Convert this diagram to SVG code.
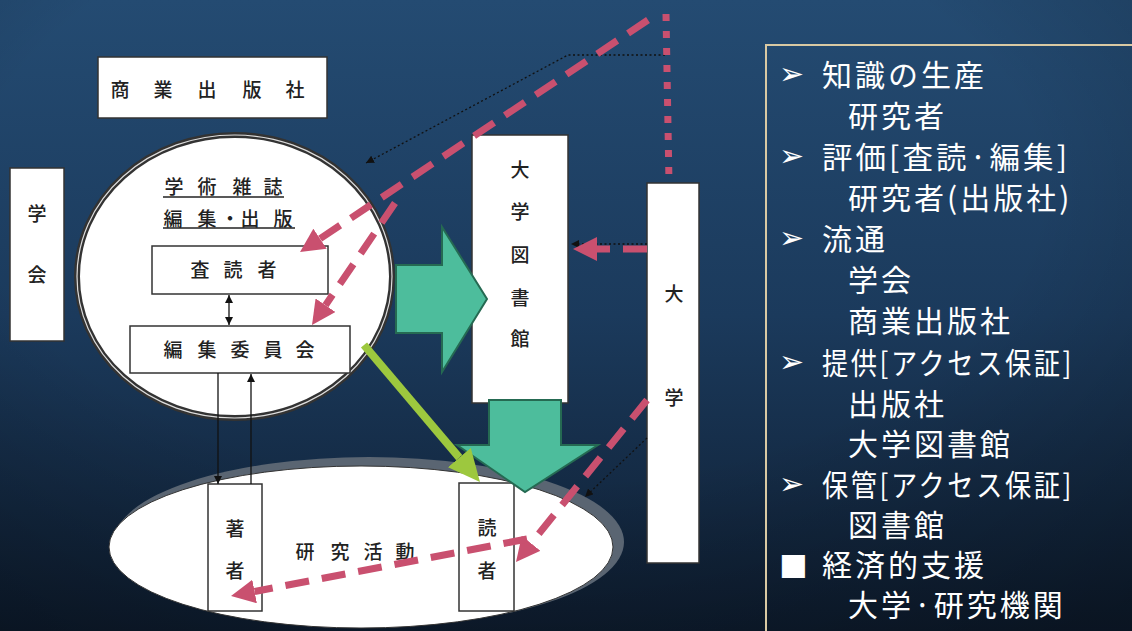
<svg xmlns="http://www.w3.org/2000/svg" width="1132" height="631" viewBox="0 0 1132 631">
<defs>
  <linearGradient id="bg" x1="0" y1="0" x2="0" y2="1">
    <stop offset="0" stop-color="#244b72"/>
    <stop offset="0.5" stop-color="#1b3a5c"/>
    <stop offset="1" stop-color="#0e1d30"/>
  </linearGradient>
  <radialGradient id="vig" cx="0.45" cy="0.3" r="0.85">
    <stop offset="0.55" stop-color="#000" stop-opacity="0"/>
    <stop offset="1" stop-color="#000" stop-opacity="0.3"/>
  </radialGradient>
  <marker id="pinkHead" markerUnits="userSpaceOnUse" viewBox="0 0 24 24" markerWidth="24" markerHeight="24" refX="0" refY="12" orient="auto">
    <path d="M0,0 L24,12 L0,24 z" fill="#c9506f"/>
  </marker>
  <marker id="limeHead" markerUnits="userSpaceOnUse" viewBox="0 0 32 30" markerWidth="32" markerHeight="30" refX="0" refY="15" orient="auto">
    <path d="M0,0 L32,15 L0,30 z" fill="#9dc83e"/>
  </marker>
  <marker id="blkHead" markerUnits="userSpaceOnUse" viewBox="0 0 8 8" markerWidth="8" markerHeight="8" refX="8" refY="4" orient="auto-start-reverse">
    <path d="M0,0 L8,4 L0,8 z" fill="#111"/>
  </marker>
  <style>
    .box { fill:#fff; stroke:#333; stroke-width:1.5; }
    .lbl { font-family:"Noto Sans CJK JP", "Noto Sans CJK SC", sans-serif; font-size:19px; font-weight:500; fill:#222; text-anchor:middle; dominant-baseline:central; }
    .pt { font-family:"Noto Sans CJK JP", "Noto Sans CJK SC", sans-serif; font-size:30px; letter-spacing:3px; fill:#fff; dominant-baseline:central; }
    .bul { font-family:"DejaVu Sans", sans-serif; font-size:30px; fill:#fff; dominant-baseline:central; }
    .green { fill:#4dbd9c; stroke:#256a52; stroke-width:2; stroke-linejoin:miter; }
    .pink { fill:none; stroke:#c9506f; stroke-width:7; stroke-dasharray:24 13; }
    .pinkdot { fill:none; stroke:#c9506f; stroke-width:7; stroke-dasharray:7 10; }
    .blk { fill:none; stroke:#111; stroke-width:1.3; }
    .dot { stroke-dasharray:2 2.5; }
  </style>
</defs>

<rect x="0" y="0" width="1132" height="631" fill="url(#bg)"/>
<rect x="0" y="0" width="1132" height="631" fill="url(#vig)"/>

<!-- research activity ellipse -->
<g id="research">
  <ellipse cx="369" cy="542" rx="255" ry="85" fill="#5a6572"/>
  <ellipse cx="361" cy="547" rx="252" ry="81" fill="#fff" stroke="#333" stroke-width="1"/>
  <text class="lbl" font-size="18" x="305 340 373 405" y="550">研究活動</text>
</g>

<g id="author">
  <rect class="box" x="208" y="484" width="54" height="127"/>
  <text class="lbl" x="235" y="527">著</text>
  <text class="lbl" x="235" y="569">者</text>
</g>

<g id="reader">
  <rect class="box" x="459" y="483" width="55" height="128"/>
  <text class="lbl" x="487" y="526">読</text>
  <text class="lbl" x="487" y="569">者</text>
</g>

<g id="commercial-publisher">
  <rect class="box" x="98" y="57" width="229" height="61"/>
  <text class="lbl" x="120 163 207 252 295" y="88">商業出版社</text>
</g>

<g id="society">
  <rect class="box" x="10" y="168" width="54" height="173"/>
  <text class="lbl" x="37" y="212">学</text>
  <text class="lbl" x="37" y="273">会</text>
</g>

<g id="journal">
  <ellipse cx="234.5" cy="276.5" rx="157.5" ry="141.5" fill="#fff" stroke="#333" stroke-width="6"/>
  <ellipse cx="234.5" cy="276.5" rx="157.5" ry="141.5" fill="none" stroke="#ddd" stroke-width="1.2"/>
  <text class="lbl" x="174 207 242 273" y="185">学術雑誌</text>
  <line x1="163" y1="197" x2="284" y2="197" stroke="#222" stroke-width="1.3"/>
  <text class="lbl" x="173 207 230 250 283" y="217">編集・出版</text>
  <line x1="163" y1="228" x2="295" y2="228" stroke="#222" stroke-width="1.3"/>
</g>

<g id="referee">
  <rect class="box" x="152" y="246" width="176" height="48"/>
  <text class="lbl" x="200 233 267" y="268">査読者</text>
</g>

<g id="editorial-board">
  <rect class="box" x="130" y="326" width="220" height="47"/>
  <text class="lbl" x="173 207 240 273 305" y="348">編集委員会</text>
</g>

<g id="univ-library">
  <rect class="box" x="472" y="135" width="96" height="268"/>
  <text class="lbl" x="520" y="168">大</text>
  <text class="lbl" x="520" y="210">学</text>
  <text class="lbl" x="520" y="253">図</text>
  <text class="lbl" x="520" y="296">書</text>
  <text class="lbl" x="520" y="337">館</text>
</g>

<g id="university">
  <rect class="box" x="647" y="183" width="52" height="380"/>
  <text class="lbl" x="674" y="292">大</text>
  <text class="lbl" x="674" y="396">学</text>
</g>

<g id="connectors">
  <!-- black thin connectors -->
  <line class="blk" x1="229" y1="295" x2="229" y2="325" marker-start="url(#blkHead)" marker-end="url(#blkHead)"/>
  <line class="blk" x1="218" y1="373" x2="218" y2="484" marker-end="url(#blkHead)"/>
  <line class="blk" x1="251" y1="484" x2="251" y2="374" marker-end="url(#blkHead)"/>
  <path class="blk dot" d="M665,55 L568,55 L366,163" marker-end="url(#blkHead)"/>
  <path class="blk dot" d="M647,244 L571,244" marker-end="url(#blkHead)"/>
  <path class="blk dot" d="M647,438 L585,497" marker-end="url(#blkHead)"/>

  <!-- big green arrows -->
  <polygon class="green" points="396,265 442,265 442,227 487,299 442,372 442,333 396,333"/>
  <polygon class="green" points="489,400 561,400 561,445 598,445 525,492 457,445 489,445"/>

  <!-- lime arrow -->
  <line x1="364" y1="345" x2="459.3" y2="457.6" stroke="#9dc83e" stroke-width="8" marker-end="url(#limeHead)"/>

  <!-- pink dotted vertical -->
  <line class="pinkdot" x1="666" y1="14" x2="669" y2="183"/>

  <!-- pink dashed arrows -->
  <line class="pink" x1="648" y1="20" x2="320" y2="238.7" marker-end="url(#pinkHead)"/>
  <line class="pink" x1="395" y1="203" x2="325.5" y2="305.2" marker-end="url(#pinkHead)"/>
  <line class="pink" x1="647" y1="249" x2="597" y2="249" marker-end="url(#pinkHead)"/>
  <line class="pink" x1="647" y1="400" x2="531.1" y2="543.3" marker-end="url(#pinkHead)"/>
  <line class="pink" x1="527" y1="539" x2="254.6" y2="591.5" marker-end="url(#pinkHead)"/>
</g>

<g id="legend">
  <rect x="766" y="45" width="380" height="600" fill="none" stroke="#d9c9a3" stroke-width="2"/>
  <text class="bul" x="779" y="73">➢</text>
  <text class="pt" x="822" y="73">知識の生産</text>
  <text class="pt" x="848" y="114">研究者</text>
  <text class="bul" x="779" y="155">➢</text>
  <text class="pt" x="822" y="155" textLength="248" lengthAdjust="spacingAndGlyphs">評価[査読·編集]</text>
  <text class="pt" x="848" y="196">研究者(出版社)</text>
  <text class="bul" x="779" y="237">➢</text>
  <text class="pt" x="822" y="237">流通</text>
  <text class="pt" x="848" y="278">学会</text>
  <text class="pt" x="848" y="319">商業出版社</text>
  <text class="bul" x="779" y="361">➢</text>
  <text class="pt" x="822" y="361" textLength="252" lengthAdjust="spacingAndGlyphs">提供[アクセス保証]</text>
  <text class="pt" x="848" y="402">出版社</text>
  <text class="pt" x="848" y="442">大学図書館</text>
  <text class="bul" x="779" y="483">➢</text>
  <text class="pt" x="822" y="483" textLength="252" lengthAdjust="spacingAndGlyphs">保管[アクセス保証]</text>
  <text class="pt" x="848" y="523">図書館</text>
  <text class="bul" x="779" y="563" font-size="28">■</text>
  <text class="pt" x="822" y="563">経済的支援</text>
  <text class="pt" x="848" y="603">大学·研究機関</text>
</g>
</svg>
